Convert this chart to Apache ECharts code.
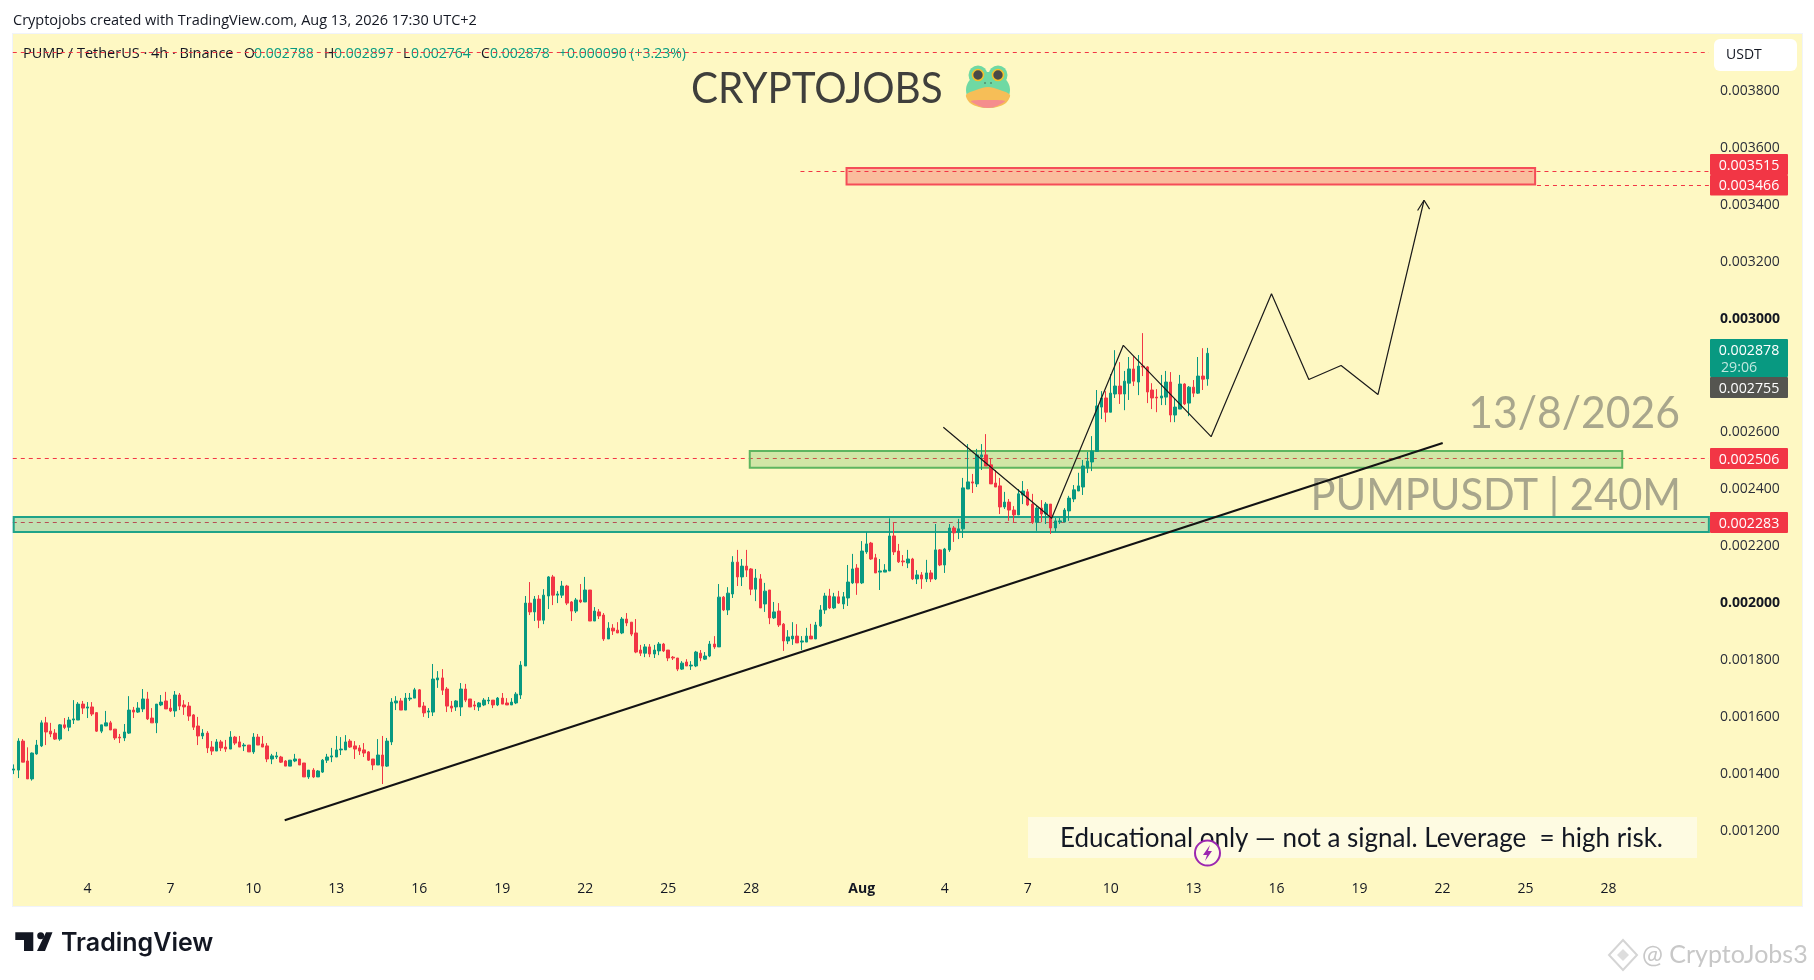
<!DOCTYPE html>
<html>
<head>
<meta charset="utf-8">
<script src="https://cdn.jsdelivr.net/npm/echarts@6/dist/echarts.min.js"></script>
<style>
html,body{margin:0;padding:0;background:#fff;overflow:hidden}
#pane{position:absolute;left:12px;top:33px;width:1789px;height:872px;background:#FEF8C3;border:1px solid #F0F3FA}
#main{position:absolute;left:0;top:0;width:1814px;height:980px}
</style>
</head>
<body>
<div id="pane"></div>
<div id="main"></div>
<script>
// PUMP/USDT 4h candles, prices in millionths of a USDT
const PRICE_UNIT = 1e-6;
const opens = [1413,1413,1515,1445,1382,1470,1498,1579,1550,1543,1522,1572,1564,1589,1589,1645,1631,1635,1615,1550,1568,1579,1557,1529,1526,1543,1624,1617,1628,1663,1596,1579,1642,1656,1631,1621,1677,1642,1638,1607,1568,1533,1543,1494,1480,1512,1494,1487,1529,1512,1498,1501,1477,1529,1505,1498,1452,1459,1459,1445,1427,1445,1452,1438,1389,1413,1389,1406,1448,1459,1459,1484,1484,1515,1498,1491,1484,1477,1452,1431,1466,1427,1512,1649,1656,1624,1663,1666,1695,
1638,1617,1617,1730,1737,1698,1638,1635,1635,1698,1663,1642,1635,1642,1656,1659,1642,1666,1649,1642,1649,1677,1779,2000,1969,2014,1940,2025,2092,2028,2028,2060,2004,1972,2011,2004,2046,1937,1969,1958,1874,1912,1905,1895,1944,1933,1895,1835,1824,1846,1821,1832,1856,1835,1810,1807,1768,1793,1779,1779,1824,1803,1814,1856,1846,2021,1976,2032,2144,2092,2130,2120,2049,2085,1997,2046,1948,1972,1926,1867,1874,1884,
1863,1863,1884,1874,1920,1976,2025,1983,2022,1997,2018,2071,2123,2071,2180,2211,2159,2109,2109,2113,2236,2183,2148,2141,2155,2085,2099,2085,2106,2085,2187,2134,2187,2264,2250,2261,2401,2426,2419,2514,2521,2486,2422,2412,2338,2355,2327,2310,2380,2391,2348,2284,2334,2313,2348,2264,2285,2285,2324,2366,2394,
2408,2475,2496,2533,2689,2721,2671,2735,2763,2735,2773,2823,2777,2833,2830,2749,2724,2721,2724,2777,2661,2682,2770,2703,2759,2738,2798,2788];
const highs = [1433,1525,1522,1493,1475,1519,1588,1600,1579,1557,1575,1596,1600,1659,1652,1656,1652,1652,1617,1572,1621,1586,1557,1540,1575,1673,1635,1652,1698,1688,1631,1645,1677,1688,1663,1691,1684,1659,1652,1610,1600,1557,1550,1515,1522,1519,1519,1550,1533,1533,1508,1501,1543,1540,1533,1508,1470,1477,1463,1448,1448,1470,1452,1438,1413,1420,1413,1452,1470,1491,1533,1529,1536,1522,1515,1501,1508,1480,1452,1522,1533,1526,1666,1673,1666,1684,1684,1702,1698,
1652,1631,1786,1761,1768,1705,1656,1659,1719,1716,1663,1656,1652,1666,1670,1659,1670,1684,1666,1666,1687,1796,2025,2074,2025,2028,2049,2095,2099,2042,2078,2064,2007,2018,2067,2092,2046,1986,1979,1965,1933,1926,1933,1951,1965,1933,1944,1853,1856,1856,1853,1863,1860,1835,1814,1807,1796,1803,1796,1832,1835,1828,1867,1884,2067,2025,2056,2165,2187,2155,2187,2123,2120,2102,2071,2046,2004,2000,1930,1905,1933,1926,
1884,1913,1927,1934,1993,2036,2050,2036,2043,2039,2134,2173,2137,2218,2250,2215,2173,2155,2137,2298,2284,2208,2169,2187,2159,2116,2109,2152,2116,2278,2190,2194,2278,2271,2296,2440,2559,2454,2542,2559,2594,2507,2468,2440,2391,2366,2341,2401,2429,2401,2384,2341,2362,2355,2348,2299,2299,2334,2377,2415,2458,
2503,2531,2587,2749,2745,2745,2805,2889,2847,2816,2865,2868,2872,2949,2833,2773,2752,2802,2816,2812,2721,2802,2773,2763,2784,2865,2896,2897];
const lows = [1399,1385,1441,1382,1376,1467,1494,1501,1529,1519,1516,1557,1550,1575,1589,1610,1596,1603,1547,1543,1568,1554,1519,1508,1515,1540,1596,1614,1617,1589,1579,1543,1638,1628,1617,1600,1624,1607,1586,1554,1501,1522,1473,1466,1480,1480,1477,1487,1501,1494,1480,1477,1470,1501,1494,1441,1434,1452,1438,1427,1427,1441,1431,1389,1382,1385,1389,1403,1438,1441,1459,1466,1484,1491,1452,1466,1459,1445,1413,1431,1364,1424,1501,1624,1624,1624,1656,1666,1635,
1600,1596,1603,1702,1677,1617,1617,1621,1603,1652,1635,1624,1621,1638,1645,1631,1638,1645,1642,1642,1645,1663,1779,1958,1937,1912,1926,1979,1993,2000,2018,1993,1937,1965,2000,2004,1937,1937,1944,1867,1874,1888,1895,1891,1919,1884,1824,1814,1810,1810,1807,1817,1828,1796,1800,1761,1765,1779,1765,1775,1796,1800,1810,1839,1846,1972,1958,2018,2060,2060,2092,2028,2007,1983,1969,1926,1944,1916,1832,1856,1853,1860,
1835,1863,1874,1874,1916,1962,1979,1979,1997,1979,1990,2067,2029,2067,2173,2152,2106,2046,2109,2113,2169,2141,2130,2123,2081,2067,2050,2074,2074,2081,2130,2106,2180,2215,2225,2229,2401,2387,2408,2468,2482,2419,2408,2313,2331,2289,2282,2310,2348,2341,2278,2254,2284,2278,2243,2250,2278,2285,2289,2355,2394,
2380,2457,2464,2533,2647,2636,2671,2721,2700,2678,2714,2763,2731,2798,2703,2682,2671,2696,2696,2636,2636,2682,2696,2657,2724,2735,2749,2764];
const closes = [1417,1515,1441,1382,1473,1501,1579,1547,1540,1522,1572,1563,1589,1593,1645,1631,1635,1610,1550,1572,1579,1554,1526,1526,1547,1624,1617,1631,1663,1593,1579,1645,1652,1628,1621,1677,1638,1635,1603,1564,1533,1543,1491,1480,1512,1491,1487,1529,1508,1494,1501,1477,1529,1501,1494,1452,1463,1463,1441,1427,1448,1452,1431,1389,1413,1389,1410,1448,1459,1463,1484,1487,1512,1494,1487,1480,1473,1448,1431,1466,1427,1515,1652,1656,1624,1666,1666,1695,1635,
1614,1621,1733,1737,1694,1638,1631,1656,1698,1659,1635,1638,1649,1659,1659,1642,1666,1645,1642,1652,1680,1782,2000,1969,2014,1940,2028,2092,2028,2032,2060,2000,1972,2011,2004,2046,1937,1972,1955,1874,1912,1902,1895,1944,1930,1891,1828,1824,1846,1821,1835,1856,1832,1807,1807,1768,1789,1779,1782,1828,1807,1814,1856,1846,2021,1976,2035,2144,2092,2130,2116,2049,2088,1983,2042,1948,1969,1923,1867,1881,1884,1860,
1867,1884,1874,1923,1976,2025,1983,2022,2000,2022,2074,2120,2071,2183,2208,2155,2106,2113,2116,2236,2180,2145,2145,2155,2085,2099,2085,2106,2085,2187,2134,2190,2264,2247,2261,2405,2426,2422,2521,2521,2482,2419,2408,2338,2355,2327,2310,2384,2394,2345,2284,2334,2313,2348,2264,2289,2289,2327,2369,2398,2412,
2482,2499,2534,2693,2721,2671,2738,2763,2735,2780,2823,2780,2833,2830,2742,2721,2721,2728,2777,2661,2689,2770,2700,2759,2738,2798,2787,2878];

// Time axis: slots are 4h bars; the axis continues past the last bar
const SLOT_COUNT = 368;
const dayTickSlots = [16,34,52,70,88,106,124,142,160,184,202,220,238,256,274,292,310,328,346];
const dayTickLabels = ['4','7','10','13','16','19','22','25','28','Aug','4','7','10','13','16','19','22','25','28'];

// Drawings: [slot, price in millionths]
const trendLine = [[58.8,1237],[310.05,2563]];
const projectionPath = [[201.7,2618],[225.2,2298],[240.75,2906],[259.8,2585],[272.9,3087],[281,2786],[288,2835],[296,2733],[306,3416]];
const arrowHead = [[304.6,3380],[306,3416],[307.2,3385]];
// Zones: [slot from, slot to, price top, price bottom]
const resistanceBox = [180.7,330.1,3529,3471];
const upperSupportBox = [159.7,349.0,2535,2476];
const lowerSupportBox = [0,367.8,2303,2250];
// Dashed levels: [slot from, slot to, price]
const dashedLevels = [[-0.2,367.8,3935.3],[170.7,367.8,3517],[330.5,367.8,3467.8],[-0.2,367.8,2508.3],[-0.2,367.8,2283.3]];

const UP = '#089981', DOWN = '#F23645';
const FONT = '"Open Sans"';
const toP = p => p * PRICE_UNIT;
const toPts = a => a.map(d => [d[0], toP(d[1])]);

const candleData = opens.map((o,i) => [toP(o), toP(closes[i]), toP(lows[i]), toP(highs[i])]);
const categories = Array.from({length: SLOT_COUNT}, (_,i) => String(i));

function zoneSeries(box, fill, stroke, z){
  return {
    type:'custom', xAxisIndex:1, yAxisIndex:0, z, silent:true, clip:false,
    data:[[box[0],box[1],toP(box[2]),toP(box[3])]],
    renderItem(params, api){
      const a = api.coord([api.value(0), api.value(2)]);
      const b = api.coord([api.value(1), api.value(3)]);
      return {type:'rect', shape:{x:a[0],y:a[1],width:b[0]-a[0],height:b[1]-a[1]},
        style:{fill, stroke, lineWidth:2}};
    }
  };
}
function lineSeries(pts, color, width, z, dash){
  return {
    type:'line', xAxisIndex:1, yAxisIndex:0, data:toPts(pts), symbol:'none', z, silent:true, clip:false,
    lineStyle:{color, width, type: dash || 'solid'}
  };
}

function tag(text, color, top, h){
  return {type:'group', silent:true, children:[
    {type:'rect', shape:{x:1710,y:top,width:78,height:h,r:1}, style:{fill:color}},
    {type:'text', x:1749, y:top+h/2+1, style:{text, fill:'#fff', font:'14.2px '+FONT, textAlign:'center', textVerticalAlign:'middle'}}
  ]};
}
function txt(text, x, y, font, fill, align, sx){
  const el = {type:'text', x, y, silent:true, style:{text, font, fill, textAlign:align||'left', textVerticalAlign:'middle'}};
  if(sx){ el.scaleX = sx; }
  return el;
}
const legendY = 54, F14 = '14px '+FONT, F_WORDS = '14.5px '+FONT, BIG = '44px Lato';

const graphics = [
  txt('Cryptojobs created with TradingView.com, Aug 13, 2026 17:30 UTC+2', 13, 21, F_WORDS, '#131722'),
  txt('PUMP / TetherUS · 4h · Binance', 23, legendY, F_WORDS, '#131722'),
  txt('O', 244, legendY, F14, '#131722'), txt('0.002788', 254, legendY, F14, UP),
  txt('H', 324, legendY, F14, '#131722'), txt('0.002897', 334, legendY, F14, UP),
  txt('L', 403, legendY, F14, '#131722'), txt('0.002764', 411, legendY, F14, UP),
  txt('C', 481, legendY, F14, '#131722'), txt('0.002878', 490, legendY, F14, UP),
  txt('+0.000090 (+3.23%)', 559, legendY, F14, UP),
  txt('CRYPTOJOBS', 691, 89, '43px Lato', '#3F3F3C', 'left', 0.94),
  // frog badge
  {type:'circle', silent:true, shape:{cx:978,cy:75,r:9.5}, style:{fill:'#6FD9A3'}},
  {type:'circle', silent:true, shape:{cx:998,cy:75,r:9.5}, style:{fill:'#6FD9A3'}},
  {type:'ellipse', silent:true, shape:{cx:988,cy:90,rx:22,ry:18}, style:{fill:'#6FD9A3'}},
  {type:'polygon', silent:true, shape:{smooth:0.3, points:[[966,95],[976,90],[988,87],[1000,90],[1010,95],[1006,103],[997,107],[988,108],[979,107],[970,103]]}, style:{fill:'#F6BE57'}},
  {type:'polygon', silent:true, shape:{smooth:0.3, points:[[971,101],[988,100],[1005,101],[997,106],[988,108],[979,106]]}, style:{fill:'#F58D8D'}},
  {type:'circle', silent:true, shape:{cx:978,cy:75,r:5.5}, style:{fill:'#4A4A48', stroke:'#F2C12E', lineWidth:1.6}},
  {type:'circle', silent:true, shape:{cx:998,cy:75,r:5.5}, style:{fill:'#4A4A48', stroke:'#F2C12E', lineWidth:1.6}},
  {type:'circle', silent:true, shape:{cx:985,cy:83,r:0.8}, style:{fill:'#3A5A48'}},
  {type:'circle', silent:true, shape:{cx:991,cy:83,r:0.8}, style:{fill:'#3A5A48'}},
  // axis unit box
  {type:'rect', silent:true, shape:{x:1714,y:39,width:83,height:32,r:6}, style:{fill:'#fff'}},
  txt('USDT', 1726, 55, F14, '#131722'),
  // price tags
  tag('0.003515', DOWN, 154, 21),
  tag('0.003466', DOWN, 175, 20.5),
  {type:'rect', silent:true, shape:{x:1710,y:339,width:78,height:38,r:1}, style:{fill:UP}},
  txt('0.002878', 1749, 351, '14.2px '+FONT, '#fff', 'center'),
  txt('29:06', 1721, 368, '14.2px '+FONT, '#BFE8DF'),
  tag('0.002755', '#555550', 377, 21),
  tag('0.002506', DOWN, 448, 21),
  tag('0.002283', DOWN, 512, 21),
  // captions on the pane
  txt('13/8/2026', 1680, 414, BIG, '#A8A68C', 'right', 0.97),
  txt('PUMPUSDT | 240M', 1681, 496, BIG, '#A8A68C', 'right', 0.947),
  // disclaimer
  {type:'rect', silent:true, shape:{x:1028,y:817,width:669,height:41}, style:{fill:'#FEFBE2'}},
  txt('Educational only — not a signal. Leverage  = high risk.', 1060, 839, '26px Lato', '#131722'),
  // alert icon
  {type:'circle', silent:true, shape:{cx:1207.5,cy:853,r:12.5}, style:{fill:'#FEFBE2', stroke:'#9C27B0', lineWidth:2}},
  {type:'polygon', silent:true, shape:{points:[[1210,845],[1203,855],[1207,855],[1205,861],[1212,851],[1208,851]]}, style:{fill:'#9C27B0'}},
  // brand mark
  {type:'polygon', silent:true, shape:{points:[[15.3,932.3],[33.3,932.3],[33.3,951],[24,951],[24,940],[15.3,940]]}, style:{fill:'#131722'}},
  {type:'circle', silent:true, shape:{cx:40.7,cy:935.7,r:3.5}, style:{fill:'#131722'}},
  {type:'polygon', silent:true, shape:{points:[[46,932.3],[52.5,932.3],[45,951],[37,951]]}, style:{fill:'#131722'}},
  txt('TradingView', 61, 943, '600 25px Inter', '#131722'),
  // footer credit
  {type:'polygon', silent:true, shape:{points:[[1623,940],[1637,955],[1623,970],[1609,955]]}, style:{fill:'none', stroke:'#D5D5D5', lineWidth:2}},
  {type:'polygon', silent:true, shape:{points:[[1623,949],[1629,955],[1623,961],[1617,955]]}, style:{fill:'#DDDDDD'}},
  txt('@ CryptoJobs3', 1642, 955, '25px Lato', '#C8C8C8')
];

const chart = echarts.init(document.getElementById('main'), null, {renderer:'canvas'});
chart.setOption({
  animation:false,
  backgroundColor:'transparent',
  graphic:{elements:graphics},
  grid:{left:11.4, top:34.1, width:1696.1, height:853.5, containLabel:false, show:false},
  tooltip:{show:false},
  xAxis:[
    {type:'category', data:categories, boundaryGap:true, position:'bottom',
     axisLine:{show:false}, axisTick:{show:false}, splitLine:{show:false},
     axisLabel:{
       interval:(i)=>dayTickSlots.indexOf(i)>=0,
       hideOverlap:false,
       margin:1, verticalAlign:'middle', color:'#131722', fontFamily:FONT, fontSize:14,
       formatter:(v)=>{
         const k = dayTickSlots.indexOf(Number(v));
         if(k<0) return '';
         const s = dayTickLabels[k];
         return s==='Aug' ? '{b|Aug}' : s;
       },
       rich:{b:{fontWeight:700,fontFamily:FONT,fontSize:14,color:'#131722'}}
     }},
    {type:'value', min:-0.5, max:SLOT_COUNT-0.5, show:false, splitLine:{show:false}, scale:true}
  ],
  yAxis:[{
    type:'value', position:'right', min:0.001, max:0.004, interval:0.0002,
    axisLine:{show:false}, axisTick:{show:false}, splitLine:{show:false},
    axisLabel:{
      showMinLabel:false, showMaxLabel:false, margin:12.5, color:'#2A2E39', fontFamily:FONT, fontSize:14,
      formatter:(v)=>{
        const s = v.toFixed(6);
        if(s==='0.002800') return '';   // covered by the last-price tag
        return (s==='0.003000'||s==='0.002000') ? '{b|'+s+'}' : s;
      },
      rich:{b:{fontWeight:700,fontFamily:FONT,fontSize:14,color:'#131722'}}
    }
  }],
  series:[
    ...dashedLevels.map(d => lineSeries([[d[0],d[2]],[d[1],d[2]]], DOWN, 1, 1, [4,4])),
    zoneSeries(resistanceBox, 'rgba(242,54,69,0.3)', '#F54D58', 2),
    zoneSeries(upperSupportBox, 'rgba(76,175,80,0.25)', '#5DB55F', 2),
    zoneSeries(lowerSupportBox, 'rgba(8,153,129,0.25)', '#1FA388', 2),
    {type:'candlestick', xAxisIndex:0, yAxisIndex:0, data:candleData, barWidth:3, z:3, silent:true, clip:false,
     progressive:0, large:false,
     itemStyle:{color:UP, color0:DOWN, borderColor:UP, borderColor0:DOWN, borderWidth:1}},
    lineSeries(trendLine, '#131313', 2.2, 4),
    lineSeries(projectionPath, '#1A1A1A', 1.2, 4),
    lineSeries(arrowHead, '#1A1A1A', 1.2, 4)
  ]
});
</script>
</body>
</html>
